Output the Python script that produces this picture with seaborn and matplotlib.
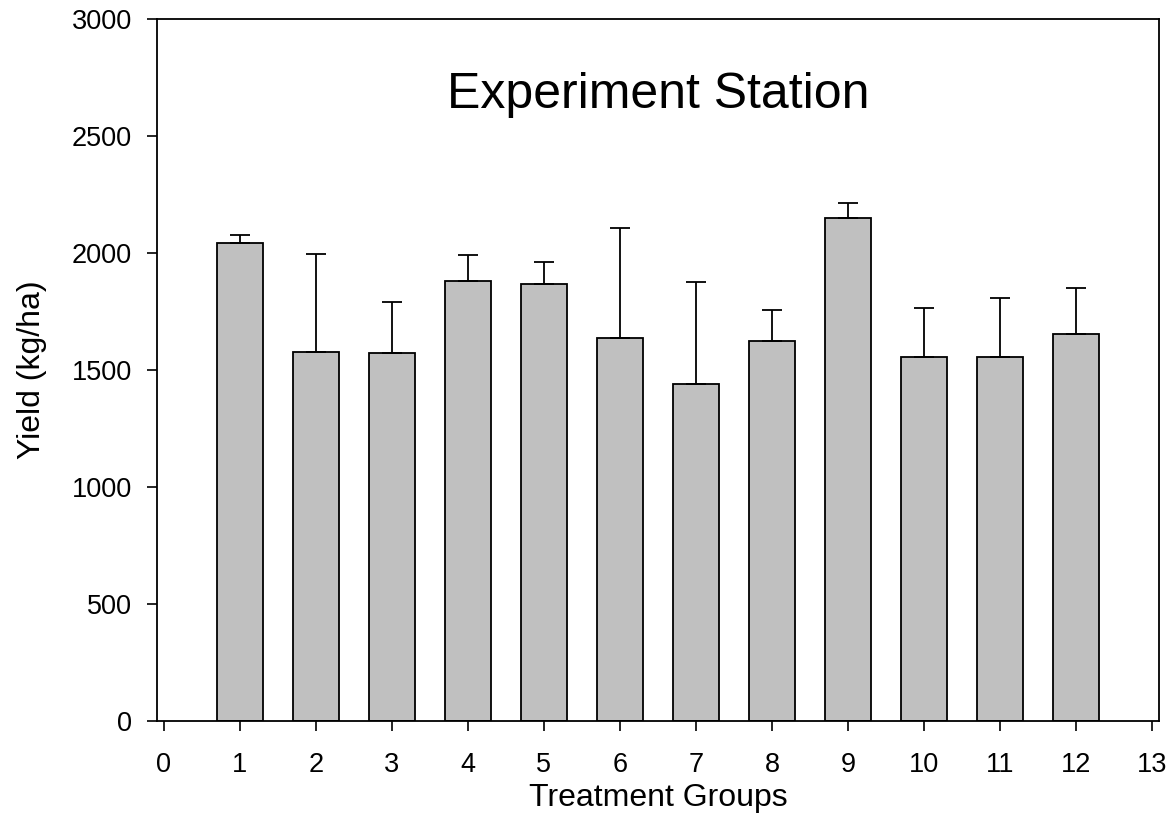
import matplotlib
matplotlib.use("Agg")
import matplotlib.pyplot as plt
import pandas as pd
import seaborn as sns

# values
groups = [1, 2, 3, 4, 5, 6, 7, 8, 9, 10, 11, 12]
yields = [2041, 1578, 1574, 1882, 1868, 1637, 1439, 1624, 2148, 1557, 1556, 1653]
err_upper = [36, 416, 215, 111, 92, 468, 437, 131, 67, 206, 253, 197]
x_ticks = list(range(0, 14))
y_ticks = list(range(0, 3001, 500))

sns.set_style("ticks")
plt.rcParams["font.family"] = ["Liberation Sans", "DejaVu Sans"]

fig = plt.figure(figsize=(11.73, 8.4), dpi=100)
ax = fig.add_axes([0.1338, 0.1417, 0.8542, 0.8357])

df = pd.DataFrame({"group": groups, "yield": yields})
sns.barplot(
    data=df, x="group", y="yield", native_scale=True, width=0.6,
    color="#C0C0C0", saturation=1, edgecolor="black", linewidth=1.3,
    errorbar=None, ax=ax,
)

# one-sided (upper) error bars
ax.errorbar(
    groups, yields, yerr=[[0] * len(groups), err_upper], fmt="none",
    ecolor="black", elinewidth=1.3, capsize=7.5, capthick=1.3, zorder=3,
)

ax.set_xlim(-0.09, 13.09)
ax.set_ylim(0, 3000)
ax.set_xticks(x_ticks)
ax.set_xticklabels([str(t) for t in x_ticks])
ax.set_yticks(y_ticks)
ax.set_yticklabels([str(t) for t in y_ticks])

for sp in ax.spines.values():
    sp.set_color("black")
    sp.set_linewidth(1.3)
ax.tick_params(axis="both", length=7.2, width=1.2, color="black",
               labelsize=19.5, labelcolor="black")
ax.tick_params(axis="x", pad=15.5)
ax.tick_params(axis="y", pad=11)

ax.set_xlabel("Treatment Groups", fontsize=23, color="black")
ax.set_ylabel("Yield (kg/ha)", fontsize=23, color="black")
ax.xaxis.set_label_coords(0.5, -0.088)
ax.yaxis.set_label_coords(-0.11, 0.5)

ax.text(0.5, 0.892, "Experiment Station", transform=ax.transAxes,
        ha="center", va="center", fontsize=36, color="black")

fig.savefig("out.png", dpi=100)
